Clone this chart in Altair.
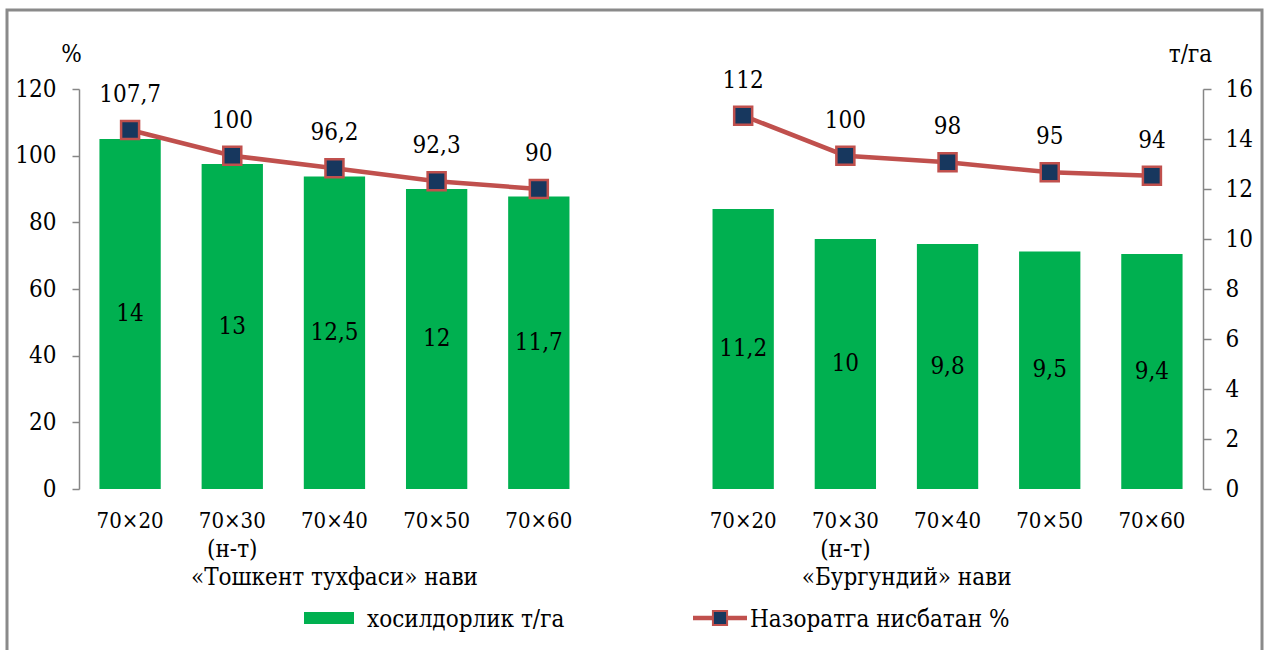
import altair as alt
import pandas as pd

# ---- data ----
spacings = ["70×20", "70×30", "70×40", "70×50", "70×60"]
control_note = "(н-т)"            # shown under 70×30
control_index = 1
group_names = ["«Тошкент тухфаси» нави", "«Бургундий» нави"]
yield_tashkent = [14, 13, 12.5, 12, 11.7]        # т/га (right axis)
yield_burgundy = [11.2, 10, 9.8, 9.5, 9.4]
pct_tashkent = [107.7, 100, 96.2, 92.3, 90]      # % (left axis)
pct_burgundy = [112, 100, 98, 95, 94]
legend_bar = "хосилдорлик т/га"
legend_line = "Назоратга нисбатан %"

# ---- styling ----
FONT = "DejaVu Serif Condensed"
FS = 24
FS_CAT = 22
GREEN = "#00B050"
RED = "#C0504D"
NAVY = "#17375E"
GRAY = "#868686"
W, H = 1124, 400


def fmt(v):
    return ("%g" % v).replace(".", ",")


rows = []
for g, (ys, ps) in enumerate([(yield_tashkent, pct_tashkent), (yield_burgundy, pct_burgundy)]):
    for i, cat in enumerate(spacings):
        slot = g * 6 + i
        rows.append({
            "group": group_names[g], "cat": cat, "pos": slot + 0.5,
            "x0": slot + 0.2, "x1": slot + 0.8,
            "yield": ys[i], "zero": 0, "ymid": ys[i] / 2, "ylab": fmt(ys[i]),
            "pct": ps[i], "plab": fmt(ps[i]),
            "note": control_note if i == control_index else "",
        })
df = pd.DataFrame(rows)

xscale = alt.Scale(domain=[0, 11], nice=False, zero=False, padding=0)
xaxis = alt.Axis(values=list(range(12)), labels=False, tickSize=7, title=None,
                 grid=False, domainColor=GRAY, tickColor=GRAY, domainWidth=1.5, tickWidth=1.5)
yr = alt.Scale(domain=[0, 16], nice=False, padding=0)
yl = alt.Scale(domain=[0, 120], nice=False, padding=0)

base = alt.Chart(df)

bars = base.mark_bar(color=GREEN, orient="vertical").encode(
    x=alt.X("x0:Q", scale=xscale, axis=xaxis),
    x2="x1:Q",
    y=alt.Y("yield:Q", scale=yr,
            axis=alt.Axis(orient="right", values=list(range(0, 17, 2)), title="т/га",
                          titleAngle=0, titleX=-13, titleY=-35, titleAlign="center",
                          titleBaseline="middle", titleFont=FONT, titleFontSize=FS,
                          titleFontWeight="normal", titleColor="black",
                          labelFont=FONT, labelFontSize=FS, labelColor="black",
                          labelPadding=14, tickSize=8, grid=False,
                          domainColor=GRAY, tickColor=GRAY, domainWidth=1.5, tickWidth=1.5)),
    y2="zero:Q",
)

bar_labels = base.mark_text(font=FONT, fontSize=FS, color="black", baseline="middle").encode(
    x=alt.X("pos:Q", scale=xscale, axis=None),
    y=alt.Y("ymid:Q", scale=yr, axis=None),
    text="ylab:N",
)

line = base.mark_line(color=RED, strokeWidth=4.5).encode(
    x=alt.X("pos:Q", scale=xscale, axis=None),
    y=alt.Y("pct:Q", scale=yl,
            axis=alt.Axis(orient="left", values=list(range(0, 121, 20)), title="%",
                          titleAngle=0, titleX=-8, titleY=-35, titleAlign="center",
                          titleBaseline="middle", titleFont=FONT, titleFontSize=FS,
                          titleFontWeight="normal", titleColor="black",
                          labelFont=FONT, labelFontSize=FS, labelColor="black",
                          labelPadding=16, tickSize=7, grid=False,
                          domainColor=GRAY, tickColor=GRAY, domainWidth=1.5, tickWidth=1.5)),
    detail="group:N",
)

points = base.mark_square(size=324, fill=NAVY, stroke=RED, strokeWidth=2.5, opacity=1).encode(
    x=alt.X("pos:Q", scale=xscale, axis=None),
    y=alt.Y("pct:Q", scale=yl, axis=None),
)

line_labels = base.mark_text(font=FONT, fontSize=FS, color="black", baseline="middle", dy=-35).encode(
    x=alt.X("pos:Q", scale=xscale, axis=None),
    y=alt.Y("pct:Q", scale=yl, axis=None),
    text="plab:N",
)

cat_labels = base.mark_text(font=FONT, fontSize=FS_CAT, color="black", baseline="middle").encode(
    x=alt.X("pos:Q", scale=xscale, axis=None),
    y=alt.value(432),
    text="cat:N",
)

note_labels = base.mark_text(font=FONT, fontSize=FS, color="black", baseline="middle").encode(
    x=alt.X("pos:Q", scale=xscale, axis=None),
    y=alt.value(461),
    text="note:N",
)

gdf = pd.DataFrame({"name": group_names, "gx": [2.5, 8.1]})
group_labels = alt.Chart(gdf).mark_text(font=FONT, fontSize=FS, color="black", baseline="middle").encode(
    x=alt.X("gx:Q", scale=xscale, axis=None),
    y=alt.value(489),
    text="name:N",
)

one = alt.Data(values=[{}])
leg_rect = alt.Chart(one).mark_rect(color=GREEN).encode(
    x=alt.value(225), x2=alt.value(275), y=alt.value(523), y2=alt.value(535))
leg_text1 = alt.Chart(one).mark_text(font=FONT, fontSize=FS, color="black", align="left", baseline="middle").encode(
    x=alt.value(288), y=alt.value(531), text=alt.value(legend_bar))
leg_line = alt.Chart(one).mark_rule(color=RED, strokeWidth=4.5).encode(
    x=alt.value(614), x2=alt.value(668), y=alt.value(529))
leg_pt = alt.Chart(one).mark_square(size=200, fill=NAVY, stroke=RED, strokeWidth=2, opacity=1).encode(
    x=alt.value(641), y=alt.value(529))
leg_text2 = alt.Chart(one).mark_text(font=FONT, fontSize=FS, color="black", align="left", baseline="middle").encode(
    x=alt.value(671), y=alt.value(531), text=alt.value(legend_line))

frame = alt.Chart(one).mark_rect(fillOpacity=0, stroke="#8A8A8A", strokeWidth=3).encode(
    x=alt.value(-72), x2=alt.value(1183), y=alt.value(-79), y2=alt.value(580))

chart = alt.layer(
    bars, bar_labels, line, points, line_labels, cat_labels, note_labels, group_labels,
    leg_rect, leg_text1, leg_line, leg_pt, leg_text2, frame,
).resolve_scale(y="independent").properties(
    width=W, height=H, autosize=alt.AutoSizeParams(type="none"),
    padding={"left": 79, "top": 89, "right": 67, "bottom": 161},
    background="white",
).configure_view(stroke=None)

chart.save("out.html", embed_options={"renderer": "svg", "actions": False})
